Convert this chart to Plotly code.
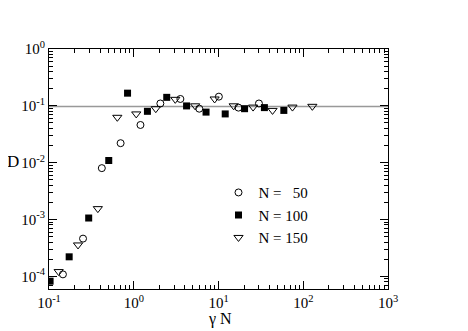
import plotly.graph_objects as go

# data (gamma*N, D)
x_n50 = [0.146, 0.252, 0.42, 0.70, 1.2, 2.06, 3.55, 5.93, 10.1, 17.2, 30.0]
d_n50 = [1.08e-4, 4.6e-4, 8.0e-3, 0.022, 0.046, 0.11, 0.132, 0.089, 0.145, 0.093, 0.11]

x_n100 = [0.103, 0.173, 0.294, 0.507, 0.845, 1.45, 2.45, 4.2, 7.13, 12.0, 20.3, 34.8, 59.0]
d_n100 = [8.2e-5, 2.2e-4, 1.06e-3, 0.0109, 0.167, 0.080, 0.141, 0.0996, 0.0775, 0.072, 0.089, 0.093, 0.083]

x_n150 = [0.130, 0.22, 0.377, 0.64, 1.07, 1.82, 3.09, 5.3, 9.0, 15.1, 25.6, 43.4, 74.6, 128.0]
d_n150 = [1.21e-4, 3.56e-4, 1.55e-3, 0.0628, 0.072, 0.089, 0.13, 0.1, 0.132, 0.1, 0.095, 0.083, 0.095, 0.098]

d_plateau = 0.097
x_line = [0.1, 1000]

xtick_vals = [0.1, 1, 10, 100, 1000]
xtick_text = ["10<sup>-1</sup>", "10<sup>0</sup>", "10<sup>1</sup>", "10<sup>2</sup>", "10<sup>3</sup>"]
ytick_vals = [1e-4, 1e-3, 1e-2, 1e-1, 1]
ytick_text = ["10<sup>-4</sup>", "10<sup>-3</sup>", "10<sup>-2</sup>", "10<sup>-1</sup>", "10<sup>0</sup>"]

serif = "Liberation Serif, Times New Roman, serif"

fig = go.Figure()

# plateau line
fig.add_trace(go.Scatter(x=x_line, y=[d_plateau, d_plateau], mode="lines",
                         line=dict(color="#999999", width=1.5), showlegend=False,
                         hoverinfo="skip"))

fig.add_trace(go.Scatter(x=x_n50, y=d_n50, mode="markers", name="N =\u00a0\u00a0\u00a050",
                         marker=dict(symbol="circle-open", size=7, color="black",
                                     line=dict(width=1, color="black"))))
fig.add_trace(go.Scatter(x=x_n100, y=d_n100, mode="markers", name="N = 100",
                         marker=dict(symbol="square", size=7, color="black")))
fig.add_trace(go.Scatter(x=x_n150, y=d_n150, mode="markers", name="N = 150",
                         marker=dict(symbol="triangle-down-open", size=8, color="black",
                                     line=dict(width=1, color="black"))))

axis_common = dict(
    type="log", showgrid=False, zeroline=False,
    showline=True, linecolor="black", linewidth=1, mirror="ticks",
    ticks="inside", ticklen=8, tickcolor="black", tickwidth=1,
    tickfont=dict(family=serif, size=15, color="black"),
    minor=dict(ticks="inside", ticklen=4, tickcolor="black", tickwidth=1,
               dtick="D1", showgrid=False),
)

fig.update_xaxes(range=[-1, 3], tickvals=xtick_vals, ticktext=xtick_text, **axis_common)
fig.update_yaxes(range=[-4.224, 0], tickvals=ytick_vals, ticktext=ytick_text, **axis_common)

# the page body adds an 8px margin, so the figure is a bit smaller than the window
fig.update_layout(
    width=460, height=323,
    margin=dict(l=41, r=80, t=41, b=42),
    plot_bgcolor="white", paper_bgcolor="white",
    font=dict(family=serif, color="black"),
    legend=dict(x=0.50, y=0.47, xanchor="left", yanchor="top",
                bgcolor="rgba(0,0,0,0)", font=dict(family=serif, size=15)),
    annotations=[
        dict(text="D", xref="paper", yref="paper", x=-0.105, y=0.53,
             xanchor="center", yanchor="middle",
             showarrow=False, font=dict(family=serif, size=17)),
        dict(text="\u03b3 N", xref="paper", yref="paper", x=0.505, y=-0.125,
             xanchor="center", yanchor="middle",
             showarrow=False, font=dict(family=serif, size=16)),
    ],
)

fig.write_html("out.html")
